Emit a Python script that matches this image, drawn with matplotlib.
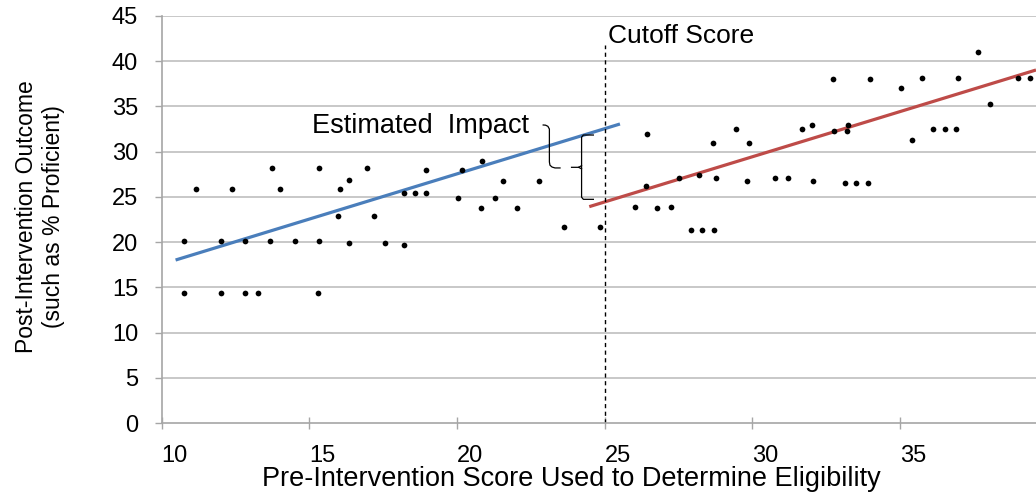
import matplotlib
matplotlib.use("Agg")
import matplotlib.pyplot as plt
import numpy as np

plt.rcParams['font.family'] = ['Liberation Sans', 'DejaVu Sans']

# ---- data ----
below_x = [10.77, 10.77, 11.15, 12.0, 12.0, 12.38, 12.83, 12.83, 13.27, 13.66,
           13.74, 14.02, 14.50, 15.34, 15.34, 15.28, 15.96, 16.04, 16.34, 16.34,
           16.95, 17.19, 17.56, 18.21, 18.20, 18.59, 18.95, 18.96, 20.04, 20.17,
           20.84, 20.81, 21.29, 21.55, 22.03, 22.78, 23.63, 24.85]
below_y = [20.16, 14.41, 25.91, 20.16, 14.41, 25.91, 20.16, 14.41, 14.41, 20.16,
           28.23, 25.91, 20.16, 28.23, 20.16, 14.41, 22.89, 25.91, 26.90, 19.87,
           28.23, 22.89, 19.87, 19.68, 25.43, 25.43, 27.94, 25.43, 24.88, 27.94,
           28.94, 23.74, 24.88, 26.76, 23.74, 26.76, 21.71, 21.71]

above_x = [26.04, 26.41, 26.42, 26.78, 27.26, 27.53, 27.91, 28.20, 28.31, 28.66,
           28.69, 28.76, 29.44, 29.82, 29.88, 30.77, 31.21, 31.67, 32.01, 32.06,
           32.74, 32.76, 33.20, 33.23, 33.14, 33.52, 33.91, 33.99, 35.04, 35.42,
           35.75, 36.13, 36.52, 36.89, 36.97, 37.65, 38.05, 38.99, 39.41]
above_y = [23.92, 26.24, 31.95, 23.77, 23.92, 27.12, 21.34, 27.45, 21.34, 30.93,
           21.34, 27.12, 32.47, 26.76, 30.93, 27.12, 27.12, 32.47, 32.95, 26.73,
           38.00, 32.29, 32.29, 32.98, 26.50, 26.50, 26.50, 38.00, 37.01, 31.26,
           38.18, 32.47, 32.47, 32.47, 38.18, 41.02, 35.27, 38.18, 38.18]

# regression lines (endpoints)
fit_below_x = [10.47, 25.52]
fit_below_y = [18.02, 33.06]
fit_above_x = [24.48, 39.61]
fit_above_y = [23.92, 39.03]

cutoff = 25.0
x_ticks = [10, 15, 20, 25, 30, 35]
y_ticks = [0, 5, 10, 15, 20, 25, 30, 35, 40, 45]

# ---- figure ----
W, H = 1036, 493
fig = plt.figure(figsize=(W / 100, H / 100), dpi=100)
ax = fig.add_axes([161.7 / W, 1 - 423 / H, (W - 161.7) / W, (423 - 16) / H])
ax.set_xlim(10, 39.61)
ax.set_ylim(0, 45)

grid_c = '#bfbfbf'
for yv in y_ticks[1:]:
    ax.axhline(yv, color=grid_c, lw=1.2, zorder=0)
for s in ['top', 'right']:
    ax.spines[s].set_visible(False)
for s in ['left', 'bottom']:
    ax.spines[s].set_color('#a6a6a6')
    ax.spines[s].set_linewidth(1.2)

ax.set_xticks(x_ticks)
ax.set_yticks(y_ticks)
ax.set_xticklabels([str(v) for v in x_ticks], ha='left')
ax.tick_params(axis='x', direction='inout', length=8, width=1.0, color='#a6a6a6',
               labelsize=17, pad=12)
ax.tick_params(axis='y', direction='out', length=5, width=1.0, color='#a6a6a6',
               labelsize=17, pad=12)

ax.scatter(below_x, below_y, s=17, color='black', zorder=3, linewidths=0)
ax.scatter(above_x, above_y, s=17, color='black', zorder=3, linewidths=0)
ax.plot(fit_below_x, fit_below_y, color='#4a7ebb', lw=2.3, zorder=2, solid_capstyle='butt')
ax.plot(fit_above_x, fit_above_y, color='#be4b48', lw=2.3, zorder=2, solid_capstyle='butt')

ax.plot([cutoff, cutoff], [0, 41.8], color='black', lw=1.0, ls=(0, (3, 2.5)), zorder=2)
ax.text(25.11, 42.8, 'Cutoff Score', fontsize=19, ha='left', va='center')
ax.text(15.08, 32.8, 'Estimated  Impact', fontsize=19.5, ha='left', va='center')

# braces
bc = 'black'
blw = 0.9
ax.plot([22.92, 23.0, 23.08, 23.13, 23.13, 23.15, 23.22, 23.32, 23.49],
        [32.95, 32.93, 32.8, 32.5, 28.86, 28.5, 28.3, 28.2, 28.2], color=bc, lw=blw)
ax.plot([24.62, 24.28, 24.22, 24.22, 24.28, 24.62],
        [31.84, 31.84, 31.6, 24.97, 24.73, 24.73], color=bc, lw=blw)
ax.plot([23.88, 24.12, 24.22], [28.27, 28.27, 28.45], color=bc, lw=blw)
ax.plot([24.12, 24.22], [28.27, 28.1], color=bc, lw=blw)

fig.text(40 / W, 1 - 217 / H, 'Post-Intervention Outcome\n(such as % Proficient)',
         rotation=90, ha='center', va='center', fontsize=16.5, multialignment='center',
         linespacing=1.25)
fig.text(571 / W, 1 - 486 / H, 'Pre-Intervention Score Used to Determine Eligibility',
         ha='center', va='baseline', fontsize=19.5)

fig.savefig('out.png', dpi=100)
